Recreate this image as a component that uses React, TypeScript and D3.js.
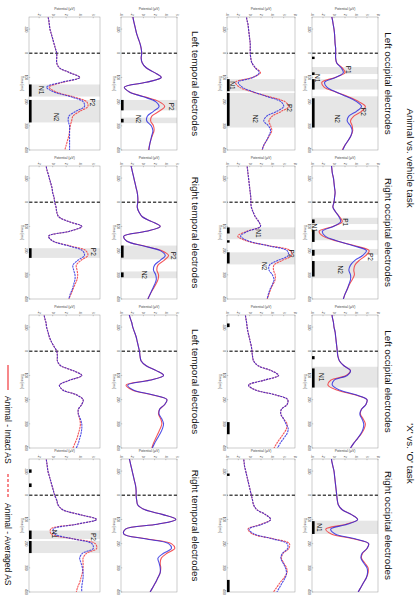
import React from 'react';
import * as d3 from 'd3';

// figure is drawn landscape (602 x 418) and turned 90deg clockwise onto the page
const FIG_W = 602;
const FIG_H = 418;

const TIMES = d3.range(-160, 401, 20);
const TIME_TICKS = [-100, 0, 100, 200, 300, 400];
const TASKS = ["Animal vs. vehicle task", "'X' vs. 'O' task"];
const REGIONS = ['Left occipital electrodes', 'Right occipital electrodes', 'Left temporal electrodes', 'Right temporal electrodes'];
const LEGEND = ['Animal - Intact AS', 'Animal - Averaged AS'];

// ---- occipital, intact AS (row 1) ----
const avLeftOccIntRed = [-0.5, -0.3, -0.15, 0, 0.1, 0.15, 0.2, 0.3, 0.3, 0.3, 0.5, 1.5, 2.0, 0.2, -2.2, -1.8, 0.3, 2.6, 4.5, 5.7, 5.0, 3.6, 3.0, 3.3, 3.4, 3.1, 2.6, 2.0, 1.5];
const avLeftOccIntBlue = [-0.5, -0.3, -0.15, 0, 0.1, 0.15, 0.2, 0.3, 0.3, 0.3, 0.5, 1.3, 1.7, 0.3, -1.7, -1.3, 0.4, 2.4, 4.1, 5.0, 4.1, 2.7, 2.4, 3.0, 3.3, 3.1, 2.6, 2.0, 1.6];
const avRightOccIntRed = [-0.5, -0.4, -0.3, -0.1, 0, 0.1, 0.2, 0.1, 0, -0.2, 0.3, 1.0, 1.5, -0.2, -2.7, -2.0, 0.5, 3.8, 6.4, 5.8, 4.6, 3.8, 3.6, 3.7, 3.3, 2.8, 2.4, 2.0, 1.7];
const avRightOccIntBlue = [-0.5, -0.4, -0.3, -0.1, 0, 0.1, 0.2, 0.1, 0, -0.2, 0.3, 0.9, 1.2, -0.1, -2.1, -1.6, 0.6, 3.5, 5.9, 5.2, 3.8, 3.0, 2.7, 3.0, 3.0, 2.7, 2.4, 2.0, 1.7];
const xoLeftOccIntRed = [-0.4, -0.3, -0.1, 0, 0.2, 0.3, 0.4, 0.5, 0.6, 0.7, 1.0, 1.8, 3.0, 2.2, -0.6, -1.1, 0.5, 3.8, 6.0, 5.8, 5.0, 4.8, 5.3, 5.7, 5.5, 5.0, 4.3, 3.6, 3.0];
const xoLeftOccIntBlue = [-0.4, -0.3, -0.1, 0, 0.2, 0.3, 0.4, 0.5, 0.6, 0.7, 1.0, 1.8, 3.0, 2.4, 0.0, -0.3, 1.0, 4.0, 6.0, 5.8, 5.0, 4.7, 5.1, 5.4, 5.3, 4.9, 4.3, 3.6, 3.0];
const xoRightOccIntRed = [-0.5, -0.4, -0.2, 0, 0.1, 0.2, 0.3, 0.4, 0.5, 0.6, 0.8, 1.5, 3.2, 4.3, 2.2, -1.5, -0.5, 3.5, 6.3, 6.0, 5.2, 5.0, 5.6, 6.2, 6.2, 5.9, 5.4, 4.9, 4.4];
const xoRightOccIntBlue = [-0.5, -0.4, -0.2, 0, 0.1, 0.2, 0.3, 0.4, 0.5, 0.6, 0.8, 1.5, 3.2, 4.3, 2.4, -0.6, 0.2, 3.8, 6.3, 6.0, 5.1, 4.9, 5.4, 6.0, 6.1, 5.9, 5.4, 4.9, 4.4];

// ---- occipital, averaged AS (row 2) ----
const avLeftOccAvgRed = [-0.6, -0.5, -0.3, -0.2, -0.1, 0, 0.1, 0.1, 0.1, 0.2, 0.4, 1.0, 1.9, 0.5, -2.5, -1.8, 0.5, 3.5, 6.2, 6.9, 5.6, 4.0, 3.4, 3.7, 3.9, 3.5, 3.0, 2.5, 2.2];
const avLeftOccAvgBlue = [-0.6, -0.5, -0.3, -0.2, -0.1, 0, 0.1, 0.1, 0.1, 0.2, 0.4, 1.0, 1.7, 0.6, -2.0, -1.3, 0.7, 3.2, 5.5, 6.0, 4.8, 3.0, 2.5, 3.3, 3.7, 3.4, 3.0, 2.5, 2.2];
const avRightOccAvgRed = [-0.5, -0.4, -0.3, -0.2, -0.1, 0, 0.1, 0.2, 0.2, 0.3, 0.6, 1.0, 1.6, 1.9, -0.5, -2.1, -0.5, 3.5, 7.2, 7.4, 5.8, 4.3, 4.2, 4.5, 4.5, 4.1, 3.7, 3.4, 3.1];
const avRightOccAvgBlue = [-0.5, -0.4, -0.3, -0.2, -0.1, 0, 0.1, 0.2, 0.2, 0.3, 0.6, 1.0, 1.6, 1.9, -0.3, -1.6, -0.2, 3.3, 6.6, 6.8, 5.0, 3.5, 3.4, 4.0, 4.3, 4.0, 3.6, 3.3, 3.1];
const xoLeftOccAvgRed = [-0.8, -0.7, -0.55, -0.45, -0.3, -0.1, 0.1, 0.3, 0.4, 0.5, 0.7, 1.5, 3.8, 5.1, 2.5, -0.2, 1.0, 4.5, 6.7, 6.6, 5.6, 5.5, 6.0, 6.6, 6.5, 6.0, 5.4, 4.8, 4.3];
const xoLeftOccAvgBlue = [-0.8, -0.7, -0.55, -0.45, -0.3, -0.1, 0.1, 0.3, 0.4, 0.5, 0.7, 1.5, 3.8, 5.1, 2.5, -0.2, 1.0, 4.5, 6.7, 6.6, 5.6, 5.5, 6.0, 6.4, 6.8, 6.6, 6.0, 5.4, 4.9];
const xoRightOccAvgRed = [-1.1, -1.0, -0.9, -0.7, -0.5, -0.3, -0.1, 0.1, 0.3, 0.5, 0.7, 1.3, 2.8, 3.7, 2.0, -0.3, 0.5, 4.2, 7.0, 6.9, 5.9, 5.6, 6.0, 6.5, 6.6, 6.1, 5.4, 4.8, 4.2];
const xoRightOccAvgBlue = [-1.1, -1.0, -0.9, -0.7, -0.5, -0.3, -0.1, 0.1, 0.3, 0.5, 0.7, 1.3, 2.8, 3.7, 2.2, -0.1, 0.8, 4.0, 6.6, 6.7, 5.8, 5.5, 5.9, 6.3, 6.5, 6.3, 5.8, 5.3, 4.8];

// ---- temporal, intact AS (row 3) ----
const avLeftTempIntRed = [-1.9, -1.8, -1.6, -1.4, -1.2, -0.9, -0.6, -0.4, -0.3, -0.4, -0.2, 0.5, 2.0, 3.2, 0.5, -3.4, -2.5, 0.2, 2.8, 3.8, 2.8, 1.5, 1.3, 1.8, 1.9, 1.6, 1.3, 1.1, 0.9];
const avLeftTempIntBlue = [-1.9, -1.8, -1.6, -1.4, -1.2, -0.9, -0.6, -0.4, -0.3, -0.4, -0.2, 0.5, 2.0, 3.2, 0.5, -3.4, -2.5, 0.0, 2.2, 2.8, 1.8, 0.7, 0.6, 1.4, 1.7, 1.5, 1.3, 1.1, 1.0];
const avRightTempIntRed = [-2.3, -2.1, -1.9, -1.7, -1.5, -1.3, -1.1, -1.0, -1.0, -1.1, -0.8, -0.2, 1.5, 3.0, 0.5, -3.5, -3.0, 0.0, 3.3, 4.5, 3.7, 2.6, 2.4, 2.7, 2.6, 2.2, 1.7, 1.2, 0.8];
const avRightTempIntBlue = [-2.3, -2.1, -1.9, -1.7, -1.5, -1.3, -1.1, -1.0, -1.0, -1.1, -0.8, -0.2, 1.5, 3.0, 0.5, -3.5, -3.0, -0.1, 3.0, 3.9, 3.0, 2.0, 1.8, 2.2, 2.3, 2.0, 1.6, 1.2, 0.8];
const xoLeftTempIntRed = [-2.6, -2.4, -2.1, -1.9, -1.6, -1.3, -1.1, -0.9, -0.7, -0.6, -0.4, 0.5, 2.3, 3.6, 1.0, -3.1, -2.0, 1.5, 4.2, 3.8, 2.9, 2.7, 3.1, 3.3, 3.0, 2.6, 2.2, 1.8, 1.5];
const xoLeftTempIntBlue = [-2.6, -2.4, -2.1, -1.9, -1.6, -1.3, -1.1, -0.9, -0.7, -0.6, -0.4, 0.5, 2.3, 3.6, 1.1, -2.8, -1.8, 1.6, 4.2, 3.8, 2.9, 2.8, 3.3, 3.6, 3.4, 3.0, 2.5, 2.0, 1.6];
const xoRightTempIntRed = [-2.6, -2.4, -2.2, -2.0, -1.8, -1.6, -1.4, -1.3, -1.3, -1.2, -1.0, 0.3, 3.5, 5.8, 2.5, -3.2, -3.5, 0.5, 5.0, 5.6, 4.2, 3.2, 3.0, 3.1, 3.0, 2.6, 2.2, 1.7, 1.2];
const xoRightTempIntBlue = [-2.6, -2.4, -2.2, -2.0, -1.8, -1.6, -1.4, -1.3, -1.3, -1.2, -1.0, 0.3, 3.5, 5.8, 2.5, -3.2, -3.5, 0.3, 4.5, 5.0, 3.6, 2.6, 2.8, 3.0, 3.0, 2.6, 2.2, 1.7, 1.2];

// ---- temporal, averaged AS (row 4) ----
const avLeftTempAvgRed = [-0.8, -0.6, -0.5, -0.4, -0.2, 0, 0.2, 0.4, 0.6, 0.6, 0.6, 1.0, 2.5, 4.0, 1.5, -0.5, 0.5, 3.0, 5.0, 5.2, 4.0, 3.0, 2.8, 2.6, 2.5, 2.4, 2.2, 2.0, 1.8];
const avLeftTempAvgBlue = [-0.8, -0.6, -0.5, -0.4, -0.2, 0, 0.2, 0.4, 0.6, 0.6, 0.6, 1.0, 2.5, 4.0, 1.3, -0.9, 0.2, 2.7, 4.5, 4.7, 3.4, 2.4, 2.3, 2.5, 2.5, 2.5, 2.5, 2.5, 2.5];
const avRightTempAvgRed = [-1.0, -0.9, -0.7, -0.5, -0.3, -0.1, 0, 0.2, 0.3, 0.5, 0.6, 0.9, 2.4, 4.3, 2.5, -0.6, 0.0, 2.5, 4.9, 5.2, 4.2, 3.5, 3.6, 3.7, 3.6, 3.3, 3.0, 2.7, 2.4];
const avRightTempAvgBlue = [-1.0, -0.9, -0.7, -0.5, -0.3, -0.1, 0, 0.2, 0.3, 0.5, 0.6, 0.9, 2.4, 4.3, 2.5, -0.6, 0.0, 2.3, 4.4, 4.7, 3.7, 3.0, 3.1, 3.3, 3.3, 3.1, 2.9, 2.6, 2.4];
const xoLeftTempAvgRed = [-1.3, -1.2, -1.0, -0.9, -0.7, -0.5, -0.2, 0.2, 0.6, 0.7, 0.7, 1.2, 3.0, 4.3, 2.5, 1.0, 1.5, 3.5, 4.5, 4.3, 3.8, 3.8, 4.0, 4.1, 4.0, 3.8, 3.6, 3.3, 3.0];
const xoLeftTempAvgBlue = [-1.3, -1.2, -1.0, -0.9, -0.7, -0.5, -0.2, 0.2, 0.6, 0.7, 0.7, 1.2, 3.0, 4.3, 2.5, 1.0, 1.5, 3.5, 4.5, 4.3, 3.8, 3.8, 4.1, 4.3, 4.3, 4.2, 4.0, 3.8, 3.5];
const xoRightTempAvgRed = [-1.0, -0.9, -0.8, -0.7, -0.5, -0.3, -0.1, 0.1, 0.3, 0.6, 0.8, 1.5, 4.0, 6.5, 3.5, -0.3, -0.2, 3.0, 6.3, 6.5, 5.0, 4.5, 4.5, 4.5, 4.4, 4.2, 4.0, 3.7, 3.5];
const xoRightTempAvgBlue = [-1.0, -0.9, -0.8, -0.7, -0.5, -0.3, -0.1, 0.1, 0.3, 0.6, 0.8, 1.5, 4.0, 6.5, 3.5, 0.1, 0.3, 3.0, 5.8, 6.0, 4.4, 4.0, 4.2, 4.4, 4.5, 4.5, 4.4, 4.3, 4.3];

// grey analysis windows [from, to] in ms
const bandsR1 = [[[57, 86], [107, 150], [178, 307]], [[64, 90], [114, 157], [193, 217], [243, 314]], [[64, 150]], [[105, 160]]];
const bandsR2 = [[[107, 157], [164, 307]], [[104, 153], [207, 257]], [], []];
const bandsR3 = [[[193, 236], [266, 289]], [[179, 236], [286, 314]], [], []];
const bandsR4 = [[[129, 179], [193, 286]], [[190, 230]], [], [[146, 181], [189, 239]]];

// black significance bars [from, to] in ms
const sigR1 = [[[14, 24], [79, 90], [107, 150], [186, 307]], [[71, 86], [114, 164], [197, 221], [243, 307]], [[20, 33], [71, 150]], [[107, 160]]];
const sigR2 = [[[107, 157], [164, 300]], [[104, 129], [157, 167], [207, 253]], [[-115, -100], [293, 343]], [[-90, -80], [350, 400]]];
const sigR3 = [[[193, 236], [271, 286]], [[179, 229], [290, 310]], [], []];
const sigR4 = [[[129, 179], [193, 286]], [[190, 230]], [], [[-107, -93], [-49, -34], [146, 181], [189, 239]]];

// component labels [text, ms, uV]
const labelsR1 = [
  [['P1', 68, 2.6], ['N1', 103, -3.1], ['P2', 242, 5.4], ['N2', 271, 0.6]],
  [['P1', 82, 2.1], ['N1', 105, -3.6], ['P2', 226, 6.6], ['N2', 279, 1.2]],
  [['N1', 107, -2.3]],
  [['N1', 133, -2.6]],
];
const labelsR2 = [
  [['N1', 133, -3.1], ['P2', 226, 7.0], ['N2', 271, 1.0]],
  [['N1', 129, 1.6], ['P2', 212, 7.4], ['N2', 264, 2.5]],
  [],
  [],
];
const labelsR3 = [
  [['P2', 221, 4.9], ['N2', 272, -0.9]],
  [['P2', 221, 5.3], ['N2', 300, 0.2]],
  [],
  [],
];
const labelsR4 = [
  [['N1', 153, -1.7], ['P2', 203, 5.8], ['N2', 264, 0.6]],
  [['P2', 205, 6.0]],
  [],
  [['N1', 160, 0.2], ['P2', 172, 6.0]],
];

const seriesR1 = [[avLeftOccIntRed, avLeftOccIntBlue], [avRightOccIntRed, avRightOccIntBlue], [xoLeftOccIntRed, xoLeftOccIntBlue], [xoRightOccIntRed, xoRightOccIntBlue]];
const seriesR2 = [[avLeftOccAvgRed, avLeftOccAvgBlue], [avRightOccAvgRed, avRightOccAvgBlue], [xoLeftOccAvgRed, xoLeftOccAvgBlue], [xoRightOccAvgRed, xoRightOccAvgBlue]];
const seriesR3 = [[avLeftTempIntRed, avLeftTempIntBlue], [avRightTempIntRed, avRightTempIntBlue], [xoLeftTempIntRed, xoLeftTempIntBlue], [xoRightTempIntRed, xoRightTempIntBlue]];
const seriesR4 = [[avLeftTempAvgRed, avLeftTempAvgBlue], [avRightTempAvgRed, avRightTempAvgBlue], [xoLeftTempAvgRed, xoLeftTempAvgBlue], [xoRightTempAvgRed, xoRightTempAvgBlue]];

const yTicksA = [-4, -2, 0, 2, 4, 6, 8];
const yTicksB = [-4, -2, 0, 2, 4, 6];
const yTicksC = [-2, 0, 2, 4, 6];

// layout
const COL_X = [17, 166, 315, 459];
const PANEL_W = 133;
const ROWS = [
  { top: 40, bottom: 106, domain: [-4, 8], ticks: yTicksA, dashed: false, series: seriesR1, bands: bandsR1, sig: sigR1, labels: labelsR1 },
  { top: 123, bottom: 191, domain: [-4, 8], ticks: yTicksA, dashed: true, series: seriesR2, bands: bandsR2, sig: sigR2, labels: labelsR2 },
  { top: 241, bottom: 297, domain: [-4, 6], ticks: yTicksB, dashed: false, series: seriesR3, bands: bandsR3, sig: sigR3, labels: labelsR3 },
  { top: 318, bottom: 389, domain: [-3.5, 7], ticks: yTicksC, dashed: true, series: seriesR4, bands: bandsR4, sig: sigR4, labels: labelsR4 },
];
const RED = '#f2383c';
const BLUE = '#2626e0';
const FONT = 'Liberation Sans, Arial, sans-serif';

function Panel({ row, col, idx }: any) {
  const x0 = COL_X[col];
  const x = d3.scaleLinear().domain([-150, 400]).range([x0, x0 + PANEL_W]);
  const y = d3.scaleLinear().domain(row.domain).range([row.bottom, row.top]);
  const line = d3.line<number>()
    .x((_, i) => x(TIMES[i]))
    .y(d => y(d))
    .curve(d3.curveCatmullRom.alpha(0.5));
  const clipId = `clip-${idx}-${col}`;
  const [red, blue] = row.series[col];
  const dash = row.dashed ? '2.2,0.7' : undefined;
  const midY = (row.top + row.bottom) / 2;

  return (
    <g>
      <defs>
        <clipPath id={clipId}>
          <rect x={x0} y={row.top} width={PANEL_W} height={row.bottom - row.top} />
        </clipPath>
      </defs>
      {row.bands[col].map(([a, b]: number[], i: number) => (
        <rect key={'b' + i} x={x(a)} y={row.top} width={x(b) - x(a)} height={row.bottom - row.top} fill="#e6e6e6" />
      ))}
      <rect x={x0} y={row.top} width={PANEL_W} height={row.bottom - row.top} fill="none" stroke="#9a9a9a" strokeWidth={0.5} />
      {TIME_TICKS.map(t => (
        <g key={'t' + t}>
          <line x1={x(t)} x2={x(t)} y1={row.bottom} y2={row.bottom - 1.2} stroke="#777" strokeWidth={0.4} />
          <text x={x(t)} y={row.bottom + 4} fontSize={3.3} textAnchor="middle" fill="#444" fontFamily={FONT}>{t}</text>
        </g>
      ))}
      <text x={x0 + PANEL_W / 2} y={row.bottom + 8} fontSize={3.4} textAnchor="middle" fill="#444" fontFamily={FONT}>Time [ms]</text>
      {row.ticks.map((v: number) => (
        <g key={'v' + v}>
          <line x1={x0} x2={x0 + 1.2} y1={y(v)} y2={y(v)} stroke="#777" strokeWidth={0.4} />
          <text x={x0 - 1.5} y={y(v) + 1.1} fontSize={3.3} textAnchor="end" fill="#444" fontFamily={FONT}>{v}</text>
        </g>
      ))}
      <text transform={`translate(${x0 - 7},${midY}) rotate(-90)`} fontSize={3.4} textAnchor="middle" fill="#444" fontFamily={FONT}>Potential (μV)</text>
      <line x1={x(0)} x2={x(0)} y1={row.top} y2={row.bottom} stroke="#4a4a4a" strokeWidth={1.3} strokeDasharray="3.2,2" />
      {row.sig[col].map(([a, b]: number[], i: number) => (
        <rect key={'s' + i} x={x(a)} y={row.bottom - 2.6} width={x(b) - x(a)} height={2.6} fill="#000" />
      ))}
      <g clipPath={`url(#${clipId})`} fill="none" strokeWidth={1.1} strokeDasharray={dash}>
        <path d={line(red) || ''} stroke={RED} strokeOpacity={0.85} />
        <path d={line(blue) || ''} stroke={BLUE} strokeOpacity={0.8} />
      </g>
      {row.labels[col].map(([txt, t, v]: any[], i: number) => (
        <text key={'l' + i} x={x(t)} y={y(v) + 2.3} fontSize={6.5} textAnchor="middle" fill="#111" fontFamily={FONT}>{txt}</text>
      ))}
    </g>
  );
}

export default function App() {
  const taskCenters = [(COL_X[0] + COL_X[1] + PANEL_W) / 2, (COL_X[2] + COL_X[3] + PANEL_W) / 2];
  return (
    <svg width={418} height={602} style={{ position: 'absolute', left: 0, top: 0, background: '#fff' }}>
      <rect width={418} height={602} fill="#fff" />
      <g transform={`translate(${FIG_H},0) rotate(90)`}>
        {TASKS.map((t, i) => (
          <text key={t} x={taskCenters[i]} y={11} fontSize={9.8} textAnchor="middle" fill="#111" fontFamily={FONT}>{t}</text>
        ))}
        {[0, 1, 2, 3].map(c => (
          <text key={'occ' + c} x={COL_X[c] + PANEL_W / 2} y={33} fontSize={9.8} textAnchor="middle" fill="#111" fontFamily={FONT}>{REGIONS[c % 2]}</text>
        ))}
        {[0, 1, 2, 3].map(c => (
          <text key={'tmp' + c} x={COL_X[c] + PANEL_W / 2} y={226} fontSize={9.8} textAnchor="middle" fill="#111" fontFamily={FONT}>{REGIONS[2 + (c % 2)]}</text>
        ))}
        {ROWS.map((row, r) => [0, 1, 2, 3].map(c => <Panel key={`${r}-${c}`} row={row} col={c} idx={r} />))}
        <line x1={365} x2={390} y1={410} y2={410} stroke={RED} strokeWidth={1.2} />
        <text x={396} y={413.5} fontSize={8.5} fill="#111" fontFamily={FONT}>{LEGEND[0]}</text>
        <line x1={474} x2={497} y1={410} y2={410} stroke={RED} strokeWidth={1.2} strokeDasharray="3,2" />
        <text x={503} y={413.5} fontSize={8.5} fill="#111" fontFamily={FONT}>{LEGEND[1]}</text>
      </g>
    </svg>
  );
}
